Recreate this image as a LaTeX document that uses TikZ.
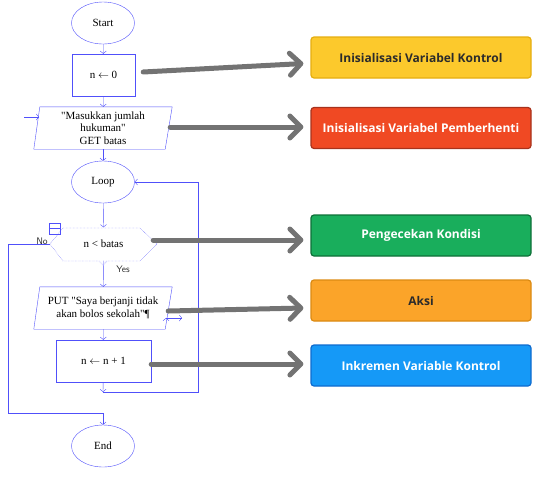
\documentclass[tikz,border=0pt]{standalone}
\usepackage{fontspec}
\setmainfont{Liberation Serif}[Ligatures=TeXOff]
\newfontfamily\tagfont{Open Sans}
\usetikzlibrary{shapes.geometric,arrows.meta}

\definecolor{fc}{RGB}{80,80,250}
\definecolor{linkgray}{RGB}{115,115,115}
\definecolor{ylwfill}{RGB}{252,201,44}
\definecolor{ylwline}{RGB}{229,174,16}
\definecolor{redfill}{RGB}{240,73,35}
\definecolor{redline}{RGB}{168,50,28}
\definecolor{grnfill}{RGB}{25,174,92}
\definecolor{grnline}{RGB}{14,112,56}
\definecolor{orgfill}{RGB}{251,164,41}
\definecolor{orgline}{RGB}{219,138,18}
\definecolor{blufill}{RGB}{21,153,247}
\definecolor{bluline}{RGB}{14,107,207}
\definecolor{darktext}{RGB}{43,43,43}

\begin{document}
\begin{tikzpicture}[x=1pt,y=-1pt,
    font=\fontsize{11}{12.5}\selectfont,
    term/.style = {draw=fc, ellipse, minimum width=63, minimum height=42, inner sep=0pt},
    proc/.style = {draw=fc, rectangle, minimum height=42, inner sep=0pt},
    iobox/.style = {minimum width=138, minimum height=42, inner sep=0pt, align=center},
    flow/.style = {draw=fc, -{Straight Barb[length=2.5pt,width=6pt]}},
    link/.style = {draw=linkgray, line width=5pt, line cap=round,
        -{Straight Barb[length=11pt,width=22pt,line cap=round,line join=round]}},
    tag/.style = {rectangle, rounded corners=3pt, line width=1.2pt, minimum width=220,
        minimum height=41, font=\tagfont\bfseries\fontsize{12}{14}\selectfont}]
  \useasboundingbox (0,0) rectangle (553,482);

  \node[term](start) at (103,23) {Start};
  \node[proc, minimum width=63](init) at (103.5,75) {n $\leftarrow$ 0};
  \node[iobox](in1) at (103,128) {"Masukkan jumlah\\hukuman"\\GET batas};
  \node[term](loop) at (103,182) {Loop};
  \node[minimum width=107, minimum height=33](cond) at (103.5,244) {n \textless{} batas};
  \node[iobox](act) at (103,308) {PUT "Saya berjanji tidak\\akan bolos sekolah"¶};
  \node[proc, minimum width=95](inc) at (103.5,361) {n $\leftarrow$ n + 1};
  \node[term](stop) at (103,446) {End};

  \draw[fc] (in1.south west) -- ([xshift=6pt]in1.north west) -- (in1.north east)
    -- ([xshift=-7pt]in1.south east) -- cycle;
  \draw[fc] (act.south west) -- ([xshift=6pt]act.north west) -- (act.north east)
    -- ([xshift=-7pt]act.south east) -- cycle;
  \draw[fc, densely dotted] (50,244) -- (63,228) -- (140,228) -- (157,244) -- (140,261)
    -- (107,261) -- (103,265) -- (99,261) -- (63,261) -- cycle;
  \node[draw=fc, minimum width=11, minimum height=11, inner sep=0pt](mark) at (54.5,228.5) {};
  \draw[fc] (mark.west) -- (mark.east);

  \node[font=\sffamily\fontsize{9.5}{11}\selectfont, text=darktext](no) at (42,241) {No};
  \node[font=\sffamily\fontsize{9.5}{11}\selectfont, text=darktext](yes) at (123,269) {Yes};

  \coordinate (inp) at (24,117);
  \coordinate (inpe) at (39,117);
  \coordinate (outs) at (166,318);
  \coordinate (outp) at (182,318);
  \coordinate (j1) at (103,392);
  \coordinate (back) at (198,392);
  \coordinate (nl) at (8,413);

  \path[flow]
  (start) edge (init)
  (init) edge (in1)
  (in1) edge (loop)
  (loop) edge (cond.north)
  (cond.south) edge (act)
  (act) edge (inc)
  (inc) edge (j1)
  (inp) edge (inpe)
  (outs) edge (outp)
  ;
  \draw[flow] (j1) -- (back) |- (loop.east);
  \draw[flow] (cond.west) -| (nl) -| (stop.north);

  \node[tag, fill=ylwfill, draw=ylwline, text=darktext](k1) at (421,57.5) {Inisialisasi Variabel Kontrol};
  \node[tag, fill=redfill, draw=redline, text=white](k2) at (421,128) {Inisialisasi Variabel Pemberhenti};
  \node[tag, fill=grnfill, draw=grnline, text=white](k3) at (421,235.5) {Pengecekan Kondisi};
  \node[tag, fill=orgfill, draw=orgline, text=darktext](k4) at (421,300.5) {Aksi};
  \node[tag, fill=blufill, draw=bluline, text=white](k5) at (421,365.5) {Inkremen Variable Kontrol};

  \draw[link] ([shift={(8,-3)}]init.east) -- ([shift={(-7,6)}]k1.west);
  \draw[link] ([shift={(-2,-1)}]in1.east) -- ([shift={(-7,-1)}]k2.west);
  \draw[link] ([shift={(-4,-4)}]cond.east) -- ([shift={(-7,4.5)}]k3.west);
  \draw[link] ([shift={(-4,3)}]act.east) -- ([shift={(-7,7.5)}]k4.west);
  \draw[link] ([shift={(0,3)}]inc.east) -- ([shift={(-7,-1.5)}]k5.west);

\end{tikzpicture}
\end{document}
